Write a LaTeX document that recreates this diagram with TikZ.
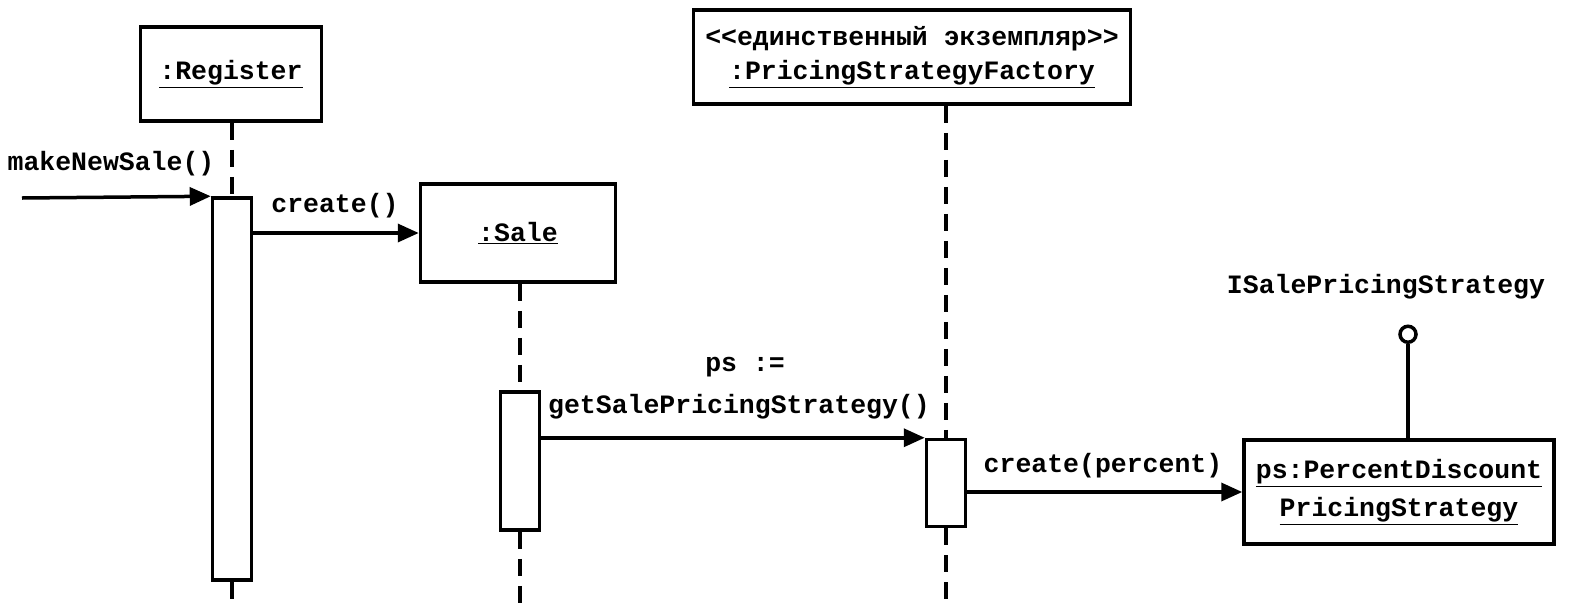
\documentclass[tikz,border=0pt]{standalone}
\usepackage{fontspec}
\setmonofont{Liberation Mono}
\usetikzlibrary{arrows.meta,calc}
\tikzset{
  obj/.style={draw, line width=3.5pt, fill=white, inner sep=0pt, align=center},
  act/.style={draw, line width=3.5pt, fill=white, minimum width=39pt, inner sep=0pt},
  life/.style={line width=3.5pt, dash pattern=on 17pt off 10pt},
  msg/.style={line width=3.5pt, -{Triangle[length=21pt,width=18pt]}},
  lbl/.style={inner sep=0pt, align=center},
  every node/.append style={font=\ttfamily\bfseries\fontsize{26.5}{33}\selectfont}
}
\begin{document}
\begin{tikzpicture}[x=1pt,y=-1pt]
\useasboundingbox (0,0) rectangle (1577,606);
% objects
\node[obj, minimum width=181pt, minimum height=94pt] (reg) at (231,74) {\underline{:Register}};
\node[obj, minimum width=195pt, minimum height=98pt] (sale) at (518,233) {\underline{:Sale}};
\node[obj, minimum width=437pt, minimum height=94pt] (fact) at (912,57)
  {<<единственный экземпляр>>\\[1pt]\underline{:PricingStrategyFactory}};
\node[obj, minimum width=310pt, minimum height=104pt] (ps) at (1399,492)
  {\underline{ps:PercentDiscount}\\[5pt]\underline{PricingStrategy}};
% activations
\node[act, minimum height=382pt] (regact) at (232,389) {};
\node[act, minimum height=138pt] (saleact) at (520,461) {};
\node[act, minimum height=87pt] (factact) at (946,483) {};
% lifeline ends
\coordinate (regend) at (232,606);
\coordinate (saleend) at (520,606);
\coordinate (factend) at (946,606);
% lifelines
\draw[life] (reg.south -| regact) -- (regact.north);
\draw[life] (regact.south) -- (regend);
\draw[life] (sale.south -| saleact) -- (saleact.north);
\draw[life] (saleact.south) -- (saleend);
\draw[life] (fact.south -| factact) -- (factact.north);
\draw[life] (factact.south) -- (factend);
% messages
\coordinate (in) at (22,198);
\draw[msg] (in) -- (regact.north west);
\draw[msg] (regact.east |- sale.west) -- (sale.west);
\draw[msg] (saleact.east |- factact.north west) -- (factact.north west);
\draw[msg] (factact.east |- ps.west) -- (ps.west);
% labels
\node[lbl] (l1) at (111,164) {makeNewSale()};
\node[lbl] (l2) at (335,206) {create()};
\node[lbl] (l3) at (745,367) {ps :=};
\node[lbl] (l4) at (739,407) {getSalePricingStrategy()};
\node[lbl] (l5) at (1103,466) {create(percent)};
% interface lollipop
\coordinate (lolbase) at ($(ps.north)+(9,0)$);
\node[draw, circle, line width=3.5pt, minimum size=16pt, inner sep=0pt] (lol) at ($(lolbase)+(0,-104)$) {};
\draw[line width=3.5pt] (lolbase) -- (lol.south);
\node[lbl] (iface) at (1386,287) {ISalePricingStrategy};
\end{tikzpicture}
\end{document}
